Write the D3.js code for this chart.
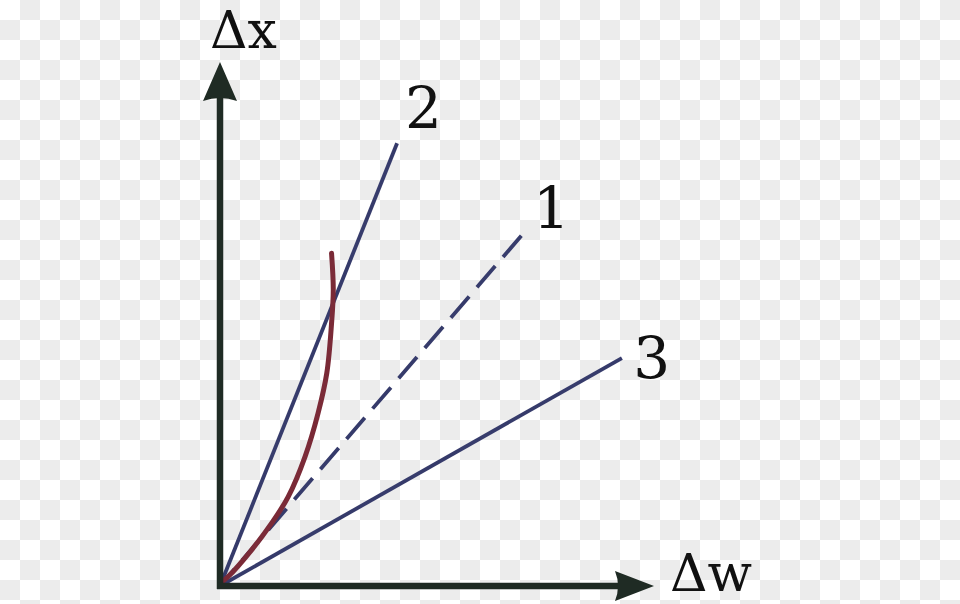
<!DOCTYPE html>
<html>
<head>
<meta charset="utf-8">
<script src="https://cdn.jsdelivr.net/npm/d3@7"></script>
<style>
  body { margin: 0; background: #fff; }
  svg { display: block; }
</style>
</head>
<body>
<svg id="chart" width="960" height="604"></svg>
<script>
// straight lines from origin: [name, end Δw, end Δx, dashed]
const lineNames = ["2", "1", "3"];
const lineEndW = [40.8, 69.6, 92.6];
const lineEndX = [84.5, 67.0, 43.5];
const lineDashed = [false, true, false];
// number labels next to each line end
const labelW = [42.6, 72.1, 95.2];
const labelX = [87.4, 68.3, 39.7];

// red curve (Δw, Δx)
const curveW = [0, 1.9, 7.3, 11.9, 15.7, 19.6, 22.6, 24.6, 25.7, 26.1, 25.7];
const curveX = [0.5, 1.8, 6.9, 12.0, 17.0, 24.7, 33.0, 40.6, 50.1, 56.5, 63.5];

const axisTitles = ["\u0394x", "\u0394w"];

const width = 960, height = 604;
const serif = "'DejaVu Serif', serif";
const svg = d3.select("#chart");

// checkered background
const defs = svg.append("defs");
const pat = defs.append("pattern")
    .attr("id", "checker")
    .attr("width", 40).attr("height", 40)
    .attr("patternUnits", "userSpaceOnUse");
pat.append("rect").attr("width", 40).attr("height", 40).attr("fill", "#ffffff");
pat.append("rect").attr("x", 20).attr("y", 0).attr("width", 20).attr("height", 20).attr("fill", "#ececec");
pat.append("rect").attr("x", 0).attr("y", 20).attr("width", 20).attr("height", 20).attr("fill", "#ececec");
svg.append("rect").attr("width", width).attr("height", height).attr("fill", "url(#checker)");

let x = d3.scaleLinear().domain([0, 100]).range([220, 654]);
let y = d3.scaleLinear().domain([0, 100]).range([586, 62]);

const blue = "#363b6b";
const red = "#7a2a37";
const axisColor = "#1f2b24";

// straight lines
lineNames.forEach((n, i) => {
    svg.append("line")
        .attr("x1", x(0)).attr("y1", y(0))
        .attr("x2", x(lineEndW[i])).attr("y2", y(lineEndX[i]))
        .attr("stroke", blue)
        .attr("stroke-width", 3.8)
        .attr("stroke-dasharray", lineDashed[i] ? "28,12" : null)
        .attr("stroke-dashoffset", lineDashed[i] ? 6 : null);

    svg.append("text")
        .attr("x", x(labelW[i])).attr("y", y(labelX[i]))
        .attr("font-family", serif)
        .attr("font-size", 58)
        .attr("fill", "#111")
        .text(n);
});

// red curve
let curvePts = curveW.map((w, i) => [x(w), y(curveX[i])]);
svg.append("path")
    .attr("d", d3.line().curve(d3.curveCatmullRom)(curvePts))
    .attr("fill", "none")
    .attr("stroke", red)
    .attr("stroke-width", 5)
    .attr("stroke-linecap", "round");

// axes with arrow heads
svg.append("line")
    .attr("x1", x(0)).attr("y1", y(0) + 3)
    .attr("x2", x(0)).attr("y2", y(100) + 30)
    .attr("stroke", axisColor).attr("stroke-width", 6.5);
svg.append("line")
    .attr("x1", x(0) - 3).attr("y1", y(0))
    .attr("x2", x(100) - 30).attr("y2", y(0))
    .attr("stroke", axisColor).attr("stroke-width", 6.5);

const tipY = y(100), ax = x(0);
svg.append("path")
    .attr("d", `M${ax},${tipY} L${ax + 17},${tipY + 39} Q${ax},${tipY + 33} ${ax - 17},${tipY + 39} Z`)
    .attr("fill", axisColor);
const tipX = x(100), ay = y(0);
svg.append("path")
    .attr("d", `M${tipX},${ay} L${tipX - 39},${ay + 15} Q${tipX - 33},${ay} ${tipX - 39},${ay - 15} Z`)
    .attr("fill", axisColor);

// axis titles
svg.append("text")
    .attr("x", x(-2.3)).attr("y", y(102.6))
    .attr("font-family", serif)
    .attr("font-size", 52)
    .attr("fill", "#111")
    .text(axisTitles[0]);
svg.append("text")
    .attr("x", x(103.7)).attr("y", y(-1.0))
    .attr("font-family", serif)
    .attr("font-size", 52)
    .attr("fill", "#111")
    .text(axisTitles[1]);
</script>
</body>
</html>
